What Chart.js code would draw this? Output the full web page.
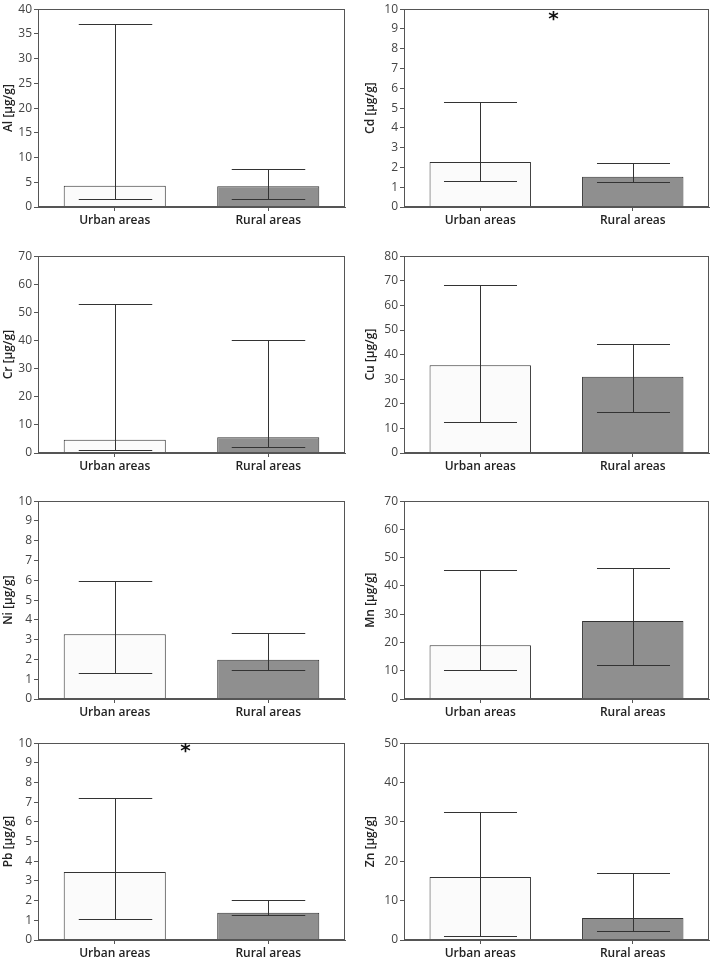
<!DOCTYPE html>
<html>
<head>
<meta charset="utf-8">
<script src="https://cdn.jsdelivr.net/npm/chart.js@4/dist/chart.umd.min.js"></script>
<style>
  html, body { margin: 0; padding: 0; background: #fff; overflow: hidden; }
  #wrap { position: relative; width: 713px; height: 959px; }
  .panel { position: absolute; }
</style>
</head>
<body>
<div id="wrap"></div>
<script>
// ---- data ----
const categories = ['Urban areas', 'Rural areas'];
const metals = ['Al', 'Cd', 'Cr', 'Cu', 'Ni', 'Mn', 'Pb', 'Zn'];

const alMean = [4.32, 4.18], alLow = [1.6, 1.7],  alHigh = [37.1, 7.7];
const cdMean = [2.27, 1.53], cdLow = [1.33, 1.24], cdHigh = [5.32, 2.24];
const crMean = [4.7, 5.6],   crLow = [1.05, 2.2],  crHigh = [53.1, 40.3];
const cuMean = [35.7, 31.0], cuLow = [12.4, 16.8], cuHigh = [68.1, 44.2];
const niMean = [3.27, 1.98], niLow = [1.31, 1.48], niHigh = [5.98, 3.32];
const mnMean = [19.0, 27.6], mnLow = [10.3, 12.1], mnHigh = [45.6, 46.4];
const pbMean = [3.46, 1.38], pbLow = [1.05, 1.26], pbHigh = [7.22, 2.01];
const znMean = [16.0, 5.6],  znLow = [1.0, 2.3],   znHigh = [32.6, 17.1];

const yMaxes = [40, 10, 70, 80, 10, 70, 10, 50];
const ySteps = [5, 1, 10, 10, 1, 10, 1, 10];
const starLevels = [null, 9.6, null, null, null, null, 9.7, null];
const starCats   = [null, 0.48, null, null, null, null, 0.46, null];

const means = [alMean, cdMean, crMean, cuMean, niMean, mnMean, pbMean, znMean];
const lows  = [alLow, cdLow, crLow, cuLow, niLow, mnLow, pbLow, znLow];
const highs = [alHigh, cdHigh, crHigh, cuHigh, niHigh, mnHigh, pbHigh, znHigh];

// ---- layout ----
const plotTops = [6, 253, 498, 740];
const plotHeights = [201, 200, 201, 200];
const colLeft = [0, 355];
const colWidth = [355, 358];
const yAxisWidth = [38, 49];
const rightPad = [10, 4];
const titlePad = [1, 8];
const XAXIS_H = 24;
const FONT = "'Open Sans', 'DejaVu Sans', sans-serif";

const wrap = document.getElementById('wrap');

metals.forEach((m, i) => {
  const row = Math.floor(i / 2), col = i % 2;
  const top = plotTops[row] - 6;
  const h = 6 + plotHeights[row] + XAXIS_H;
  const div = document.createElement('div');
  div.className = 'panel';
  div.style.left = colLeft[col] + 'px';
  div.style.top = top + 'px';
  div.style.width = colWidth[col] + 'px';
  div.style.height = h + 'px';
  const cv = document.createElement('canvas');
  cv.width = colWidth[col];
  cv.height = h;
  cv.style.width = colWidth[col] + 'px';
  cv.style.height = h + 'px';
  div.appendChild(cv);
  wrap.appendChild(div);

  const low = lows[i], high = highs[i], star = starLevels[i], starCat = starCats[i];

  const extras = {
    id: 'extras' + i,
    afterDatasetsDraw(chart) {
      const ctx = chart.ctx;
      const xs = chart.scales.x, ys = chart.scales.y;
      const meta = chart.getDatasetMeta(0);
      ctx.save();
      ctx.strokeStyle = '#333';
      ctx.lineWidth = 1;
      meta.data.forEach((bar, j) => {
        const x = Math.round(bar.x) + 0.5;
        const capHalf = bar.width * 0.36;
        const yl = Math.round(ys.getPixelForValue(low[j])) + 0.5;
        const yh = Math.round(ys.getPixelForValue(high[j])) + 0.5;
        ctx.beginPath();
        ctx.moveTo(x, yl); ctx.lineTo(x, yh);
        ctx.moveTo(x - capHalf, yh); ctx.lineTo(x + capHalf, yh);
        ctx.moveTo(x - capHalf, yl); ctx.lineTo(x + capHalf, yl);
        ctx.stroke();
      });
      // plot frame
      const a = chart.chartArea;
      ctx.strokeStyle = '#555';
      ctx.strokeRect(Math.round(a.left) + 0.5, Math.round(a.top) + 0.5,
                     Math.round(a.right - a.left) - 1, Math.round(a.bottom - a.top) - 1);
      if (star !== null) {
        const x0 = xs.getPixelForValue(0), x1 = xs.getPixelForValue(1);
        const sx = x0 + (x1 - x0) * starCat;
        const sy = ys.getPixelForValue(star);
        ctx.fillStyle = '#111';
        ctx.font = "bold 20px 'DejaVu Sans', sans-serif";
        ctx.textAlign = 'center';
        ctx.textBaseline = 'middle';
        ctx.fillText('*', sx, sy + 3);
      }
      ctx.restore();
    }
  };

  new Chart(cv, {
    type: 'bar',
    data: {
      labels: categories,
      datasets: [{
        data: means[i],
        backgroundColor: ['#fbfbfb', '#8f8f8f'],
        borderColor: '#333',
        borderWidth: 1,
        barPercentage: 0.665,
        categoryPercentage: 1
      }]
    },
    options: {
      responsive: false,
      animation: false,
      devicePixelRatio: 1,
      layout: { padding: { top: 6, right: rightPad[col], left: 0, bottom: 0 } },
      plugins: { legend: { display: false }, tooltip: { enabled: false } },
      scales: {
        x: {
          grid: { drawOnChartArea: false, offset: false, tickLength: 4, color: '#555' },
          border: { color: '#555' },
          ticks: { font: { family: FONT, size: 12, weight: '600' }, color: '#222', padding: 2, maxRotation: 0 },
          afterFit: s => { s.height = XAXIS_H; }
        },
        y: {
          min: 0, max: yMaxes[i],
          ticks: { stepSize: ySteps[i], font: { family: FONT, size: 12 }, color: '#444', padding: 2 },
          grid: { drawOnChartArea: false, tickLength: 4, color: '#555' },
          border: { color: '#555' },
          title: { display: true, text: m + ' [µg/g]', font: { family: FONT, size: 12, weight: '600' }, color: '#222', padding: { top: titlePad[col], bottom: 0 } },
          afterFit: s => { s.width = yAxisWidth[col]; }
        }
      }
    },
    plugins: [extras]
  });
});
</script>
</body>
</html>
